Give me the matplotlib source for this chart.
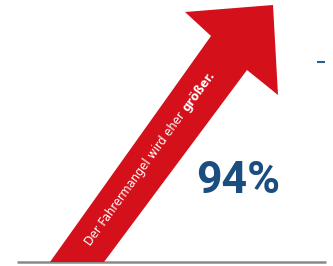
import matplotlib
matplotlib.use("Agg")
import matplotlib.pyplot as plt
from matplotlib.patches import Polygon
import math

# Data
share_value = 94
label_regular = "Der Fahrermangel wird eher "
label_bold = "größer."

W, H = 333, 266
fig = plt.figure(figsize=(W / 100, H / 100), dpi=100)
ax = fig.add_axes([0, 0, 1, 1])
ax.set_xlim(0, W)
ax.set_ylim(H, 0)
ax.axis("off")

red = "#d4111b"
blue = "#1b4d7e"

# baseline
ax.plot([17, 326], [262, 262], color="#8a8a8a", lw=1.8, solid_capstyle="butt", zorder=1)

# arrow shape (illustration)
arrow_pts = [(50, 262), (211, 36), (185, 12), (273, 5), (278, 95), (247, 70), (104, 262)]
ax.add_patch(Polygon(arrow_pts, closed=True, facecolor=red, edgecolor="none", zorder=2))

# rotated label along the arrow shaft
fs = 8.3
ang = 54.0
x0, y0 = 88, 244
ax.text(x0, y0, label_regular, color="white", fontsize=fs, family="DejaVu Sans",
        rotation=ang, rotation_mode="anchor", ha="left", va="center", zorder=3)
fig.canvas.draw()
tmp = fig.text(0, 0, label_regular, fontsize=fs, family="DejaVu Sans")
r = fig.canvas.get_renderer()
wpx = tmp.get_window_extent(r).width
tmp.remove()
x1 = x0 + wpx * math.cos(math.radians(ang))
y1 = y0 - wpx * math.sin(math.radians(ang))
ax.text(x1, y1, label_bold, color="white", fontsize=fs, family="DejaVu Sans", fontweight="bold",
        rotation=ang, rotation_mode="anchor", ha="left", va="center", zorder=3)

# big percentage
ax.text(238, 181, f"{share_value}%", color=blue, fontsize=32, family="Roboto",
        fontweight="bold", ha="center", va="center", zorder=3)

# small dash at right
ax.plot([317, 325], [62, 62], color="#2a5f90", lw=1.5, solid_capstyle="butt")

fig.savefig("out.png", dpi=100)
